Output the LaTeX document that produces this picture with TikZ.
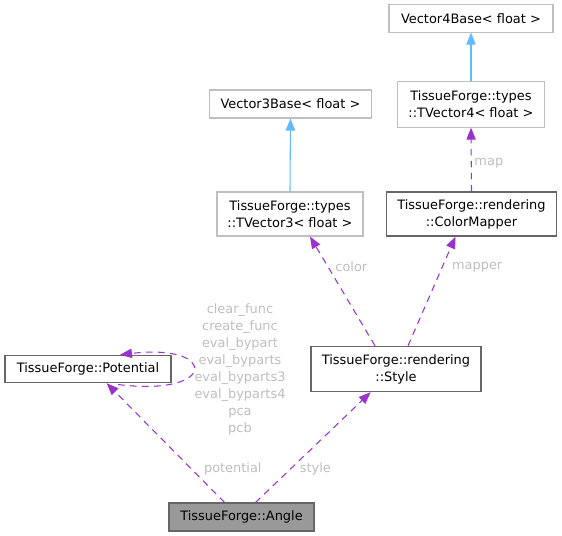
\documentclass[tikz,border=0pt]{standalone}
\usepackage{fontspec}
\setmainfont{DejaVu Sans}
\usetikzlibrary{arrows.meta}
\definecolor{inh}{HTML}{63B8FF}
\definecolor{use}{HTML}{9A32CD}
\definecolor{lbl}{HTML}{BEBEBE}
\definecolor{lgray}{HTML}{BFBFBF}
\definecolor{dgray}{HTML}{666666}
\begin{document}
\begin{tikzpicture}[x=0.75pt,y=-0.75pt,
  font=\fontsize{9.7pt}{12.75pt}\selectfont,
  box/.style={draw=lgray,fill=white,rectangle,inner sep=0pt,align=center,line width=0.8pt},
  dbox/.style={box,draw=dgray},
  inharr/.style={color=inh,line width=0.8pt,-{Triangle[length=9pt,width=7pt]}},
  usearr/.style={color=use,line width=0.8pt,dash pattern=on 5pt off 4pt,-{Triangle[length=9pt,width=7pt]}},
  elabel/.style={text=lbl,inner sep=1pt}]
\useasboundingbox (0,0) rectangle (562,536);
\node[box,minimum width=123pt,minimum height=20.5pt] (v4b) at (471,18.5) {Vector4Base< float >};
\node[box,minimum width=110pt,minimum height=34pt] (tv4) at (471,104.5) {TissueForge::types\\::TVector4< float >};
\node[box,minimum width=122pt,minimum height=21pt] (v3b) at (290.5,104) {Vector3Base< float >};
\node[box,minimum width=109.5pt,minimum height=33pt] (tv3) at (290,214) {TissueForge::types\\::TVector3< float >};
\node[dbox,minimum width=127pt,minimum height=33pt] (cm) at (471.5,214) {TissueForge::rendering\\::ColorMapper};
\node[dbox,minimum width=124.5pt,minimum height=20.5pt] (pot) at (88,369) {TissueForge::Potential};
\node[dbox,minimum width=127.5pt,minimum height=34pt] (sty) at (396,369) {TissueForge::rendering\\::Style};
\node[dbox,fill=black!40,minimum width=108.75pt,minimum height=21pt] (ang) at (241.5,517) {TissueForge::Angle};

\draw[inharr] (tv4.north) -- (v4b.south);
\draw[inharr] (tv3.north) -- (v3b.south);
\draw[usearr] (cm.north) -- node[elabel,right=1pt,pos=0.45] {map} (tv4.south);
\draw[usearr] ([xshift=-15.75pt]sty.north) -- node[elabel,pos=0.72,right=4pt] {color} ([xshift=15pt]tv3.south);
\draw[usearr] ([xshift=9pt]sty.north) -- node[elabel,pos=0.72,right=6pt] {mapper} ([xshift=-12pt]cm.south);
\draw[usearr] ([xshift=-12.75pt]ang.north) -- node[elabel,pos=0.28,right=8pt] {potential} ([xshift=14pt]pot.south);
\draw[usearr] ([xshift=10.5pt]ang.north) -- node[elabel,pos=0.3,right=6pt] {style} ([xshift=-19pt]sty.south);
\coordinate (lb) at ([xshift=22.5pt,yshift=-1pt]pot.south);
\draw[usearr] (lb) .. controls (218,397) and (218,343) .. ([xshift=24pt]pot.north);
\node[elabel,align=center,font=\fontsize{9.7pt}{12.75pt}\selectfont] (loopl) at (240,369.5) {clear\_func\\create\_func\\eval\_bypart\\eval\_byparts\\eval\_byparts3\\eval\_byparts4\\pca\\pcb};
\end{tikzpicture}
\end{document}
